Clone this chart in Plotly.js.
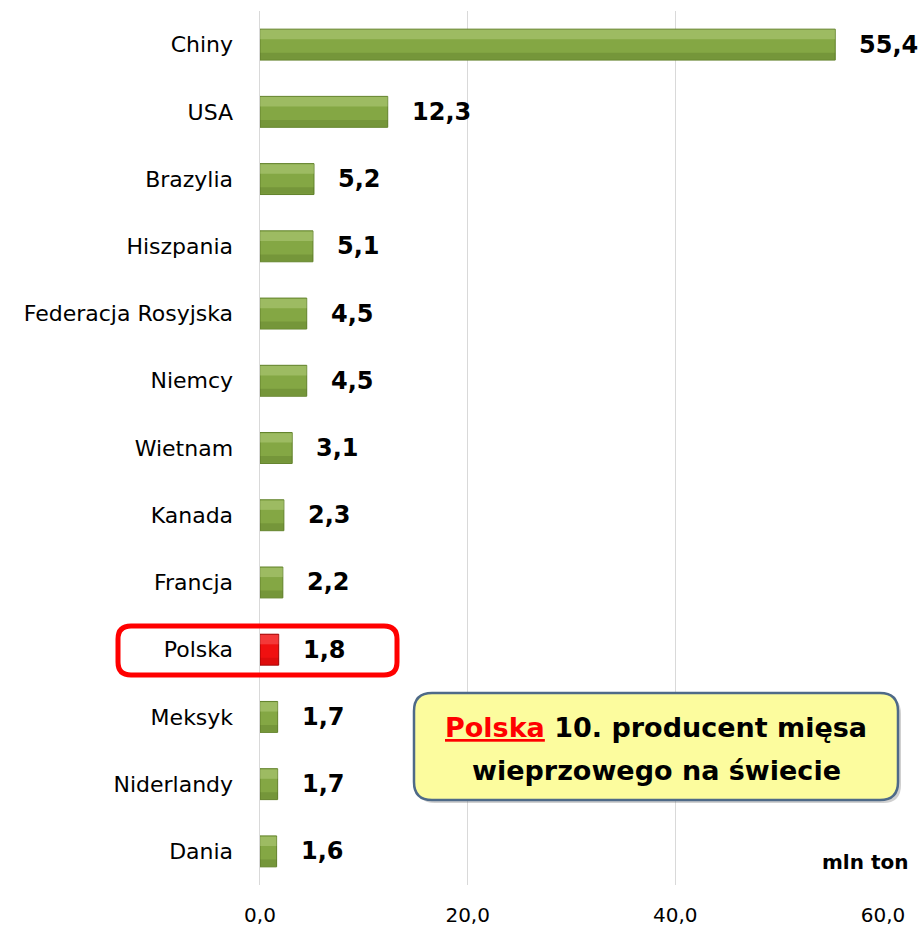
<!DOCTYPE html>
<html><head><meta charset="utf-8">
<script src="https://cdn.plot.ly/plotly-3.0.1.min.js"></script>
<style>html,body{margin:0;padding:0;background:#fff}</style>
</head><body>
<div id="chart" style="width:918px;height:926px"></div>
<script>
const countries = ["Chiny","USA","Brazylia","Hiszpania","Federacja Rosyjska","Niemcy","Wietnam","Kanada","Francja","Polska","Meksyk","Niderlandy","Dania"];
const production = [55.4,12.3,5.2,5.1,4.5,4.5,3.1,2.3,2.2,1.8,1.7,1.7,1.6];
const xTicks = [0,20,40,60];
const highlight = "Polska";
const unitLabel = "mln ton";
const boxLine1 = "<span style='color:#ff0000'><u>Polska</u></span> 10. producent mięsa";
const boxLine2 = "wieprzowego na świecie";

const FONT = "DejaVu Sans, sans-serif";
const W = 918, H = 926;
const M = {l:260, r:35, t:11, b:41};
const PW = W - M.l - M.r, PH = H - M.t - M.b;
function px2x(p){return (p - M.l)/PW;}
function px2y(p){return (H - M.b - p)/PH;}
function rrect(x0,y0,x1,y1,r){
  const X0=px2x(x0),X1=px2x(x1),Y0=px2y(y0),Y1=px2y(y1);
  const rx=r/PW, ry=r/PH;
  return `M${X0+rx},${Y0} L${X1-rx},${Y0} Q${X1},${Y0} ${X1},${Y0-ry} L${X1},${Y1+ry} Q${X1},${Y1} ${X1-rx},${Y1} L${X0+rx},${Y1} Q${X0},${Y1} ${X0},${Y1+ry} L${X0},${Y0-ry} Q${X0},${Y0} ${X0+rx},${Y0} Z`;
}

const baseColors = countries.map(c => c===highlight ? "#f01010" : "#84a744");
const edgeColors = countries.map(c => c===highlight ? "#a00000" : "#62822b");
const hiColors = countries.map(c => c===highlight ? "rgba(255,150,150,0.3)" : "rgba(215,235,170,0.3)");
const loColors = countries.map(c => c===highlight ? "rgba(150,0,0,0.2)" : "rgba(60,85,20,0.2)");

const traces = [
  {type:"bar", orientation:"h", x:production, y:countries, width:0.46,
   marker:{color:baseColors, line:{color:edgeColors, width:1}}, hoverinfo:"none"},
  {type:"bar", orientation:"h", x:production, y:countries, width:0.14, offset:-0.22,
   marker:{color:hiColors, line:{width:0}}, hoverinfo:"none"},
  {type:"bar", orientation:"h", x:production, y:countries, width:0.1, offset:0.12,
   marker:{color:loColors, line:{width:0}}, hoverinfo:"none"}
];

const fmt = v => v.toFixed(1).replace(".", ",");
const annotations = countries.map((c,i)=>({
  x:production[i], y:c, xref:"x", yref:"y", text:fmt(production[i]),
  showarrow:false, xanchor:"left", yanchor:"middle", xshift:22,
  font:{family:FONT, size:24, color:"#000", weight:"bold"}
}));
annotations.push({xref:"paper", yref:"paper", x:px2x(910), y:px2y(862), text:unitLabel,
  showarrow:false, xanchor:"right", yanchor:"middle",
  font:{family:FONT, size:20, color:"#000", weight:"bold"}});
annotations.push({xref:"paper", yref:"paper", x:px2x(656), y:px2y(727), text:boxLine1,
  showarrow:false, xanchor:"center", yanchor:"middle",
  font:{family:FONT, size:27, color:"#000", weight:"bold"}});
annotations.push({xref:"paper", yref:"paper", x:px2x(656), y:px2y(770), text:boxLine2,
  showarrow:false, xanchor:"center", yanchor:"middle",
  font:{family:FONT, size:27, color:"#000", weight:"bold"}});

const shapes = [
  {type:"path", xref:"paper", yref:"paper", path:rrect(417,696,901,803,18),
   fillcolor:"rgba(120,120,120,0.35)", line:{width:0}, layer:"above"},
  {type:"path", xref:"paper", yref:"paper", path:rrect(414,693,898,800,18),
   fillcolor:"#fcfc9e", line:{color:"#4e6a88", width:2.5}, layer:"above"},
  {type:"path", xref:"paper", yref:"paper", path:rrect(118,626,397,675,13),
   fillcolor:"rgba(0,0,0,0)", line:{color:"#ff0000", width:5}, layer:"above"}
];

const layout = {
  width:W, height:H, margin:M, paper_bgcolor:"#fff", plot_bgcolor:"#fff",
  separators:", ", barmode:"overlay", showlegend:false,
  font:{family:FONT, color:"#000"},
  xaxis:{range:[0,60], tickvals:xTicks, tickformat:".1f", showgrid:true, gridcolor:"#d9d9d9", gridwidth:1.5,
    zeroline:false, showline:false, ticks:"outside", ticklen:12, tickcolor:"rgba(0,0,0,0)",
    tickfont:{family:FONT, size:20, color:"#000"}, fixedrange:true},
  yaxis:{type:"category", autorange:"reversed", showgrid:false, zeroline:false,
    showline:true, linecolor:"#d9d9d9", linewidth:1.5,
    ticks:"outside", ticklen:21, tickcolor:"rgba(0,0,0,0)",
    tickfont:{family:FONT, size:22, color:"#000"}, fixedrange:true},
  annotations, shapes
};
Plotly.newPlot("chart", traces, layout, {displayModeBar:false, staticPlot:true});
</script>
</body></html>
